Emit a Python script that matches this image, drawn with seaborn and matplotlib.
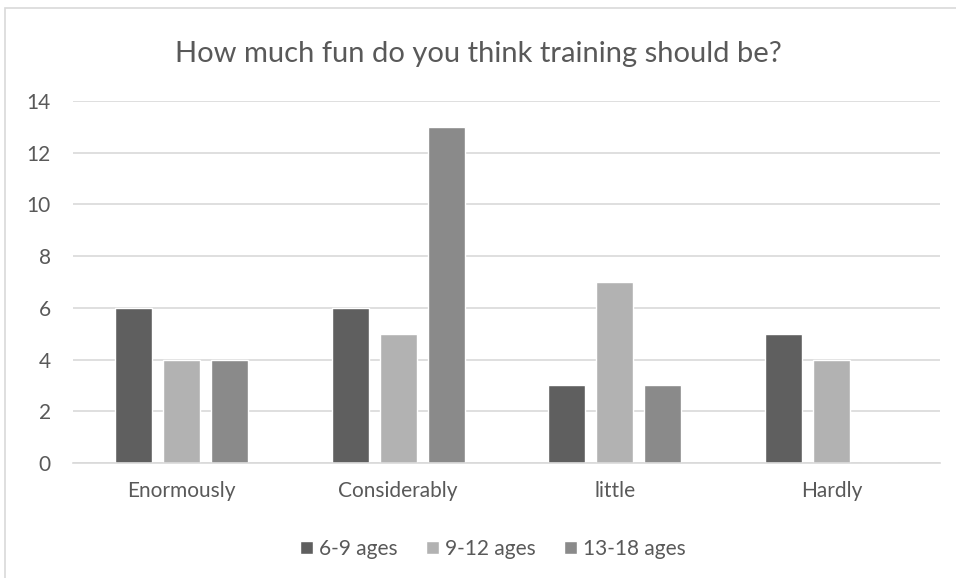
import pandas as pd
import matplotlib
matplotlib.use("Agg")
import matplotlib.pyplot as plt
import seaborn as sns
from matplotlib.patches import Rectangle

# data
categories = ["Enormously", "Considerably", "little", "Hardly"]
groups = ["6-9 ages", "9-12 ages", "13-18 ages"]
age_6_9 = [6, 6, 3, 5]
age_9_12 = [4, 5, 7, 4]
age_13_18 = [4, 13, 3, 0]
colors = ["#5f5f5f", "#b2b2b2", "#8a8a8a"]

rows = []
for i, c in enumerate(categories):
    rows.append({"cat": c, "grp": groups[0], "val": age_6_9[i]})
    rows.append({"cat": c, "grp": groups[1], "val": age_9_12[i]})
    rows.append({"cat": c, "grp": groups[2], "val": age_13_18[i]})
df = pd.DataFrame(rows)

sns.set_style("white")
plt.rcParams["font.family"] = ["Lato", "DejaVu Sans"]

fig = plt.figure(figsize=(9.56, 5.78), dpi=100)
ax = fig.add_axes([73/956, 1-463/578, 867/956, (463-101)/578])

sns.barplot(data=df, x="cat", y="val", hue="grp", palette=colors,
            width=0.664, gap=0.23, ax=ax, saturation=1, legend=True)

ax.set_ylim(0, 14)
ax.set_xlim(-0.5, 3.5)
ax.set_yticks(range(0, 15, 2))
ax.yaxis.grid(True, color="#d9d9d9", linewidth=1.2)
ax.set_axisbelow(True)
for s in ["top", "right", "left"]:
    ax.spines[s].set_visible(False)
ax.spines["bottom"].set_color("#d9d9d9")
ax.spines["bottom"].set_linewidth(1.2)
ax.tick_params(axis="both", length=0, labelsize=15, colors="#595959")
ax.tick_params(axis="x", pad=13)
ax.tick_params(axis="y", pad=16)
ax.set_xlabel("")
ax.set_ylabel("")

fig.text(0.5, 1-62/578, "How much fun do you think training should be?",
         ha="center", va="baseline", fontsize=21, color="#595959")

ax.legend(loc="center", bbox_to_anchor=(493/956, 1-549/578),
          bbox_transform=fig.transFigure, ncol=3, frameon=False,
          fontsize=15, handlelength=0.62, handleheight=0.62,
          columnspacing=1.35, handletextpad=0.3, labelcolor="#595959",
          borderpad=0)

fig.patches.append(Rectangle((5/956, -0.05), 1, 1.05-8/578, transform=fig.transFigure,
                             fill=False, edgecolor="#d9d9d9", linewidth=1.2))

fig.savefig("out.png", dpi=100)
